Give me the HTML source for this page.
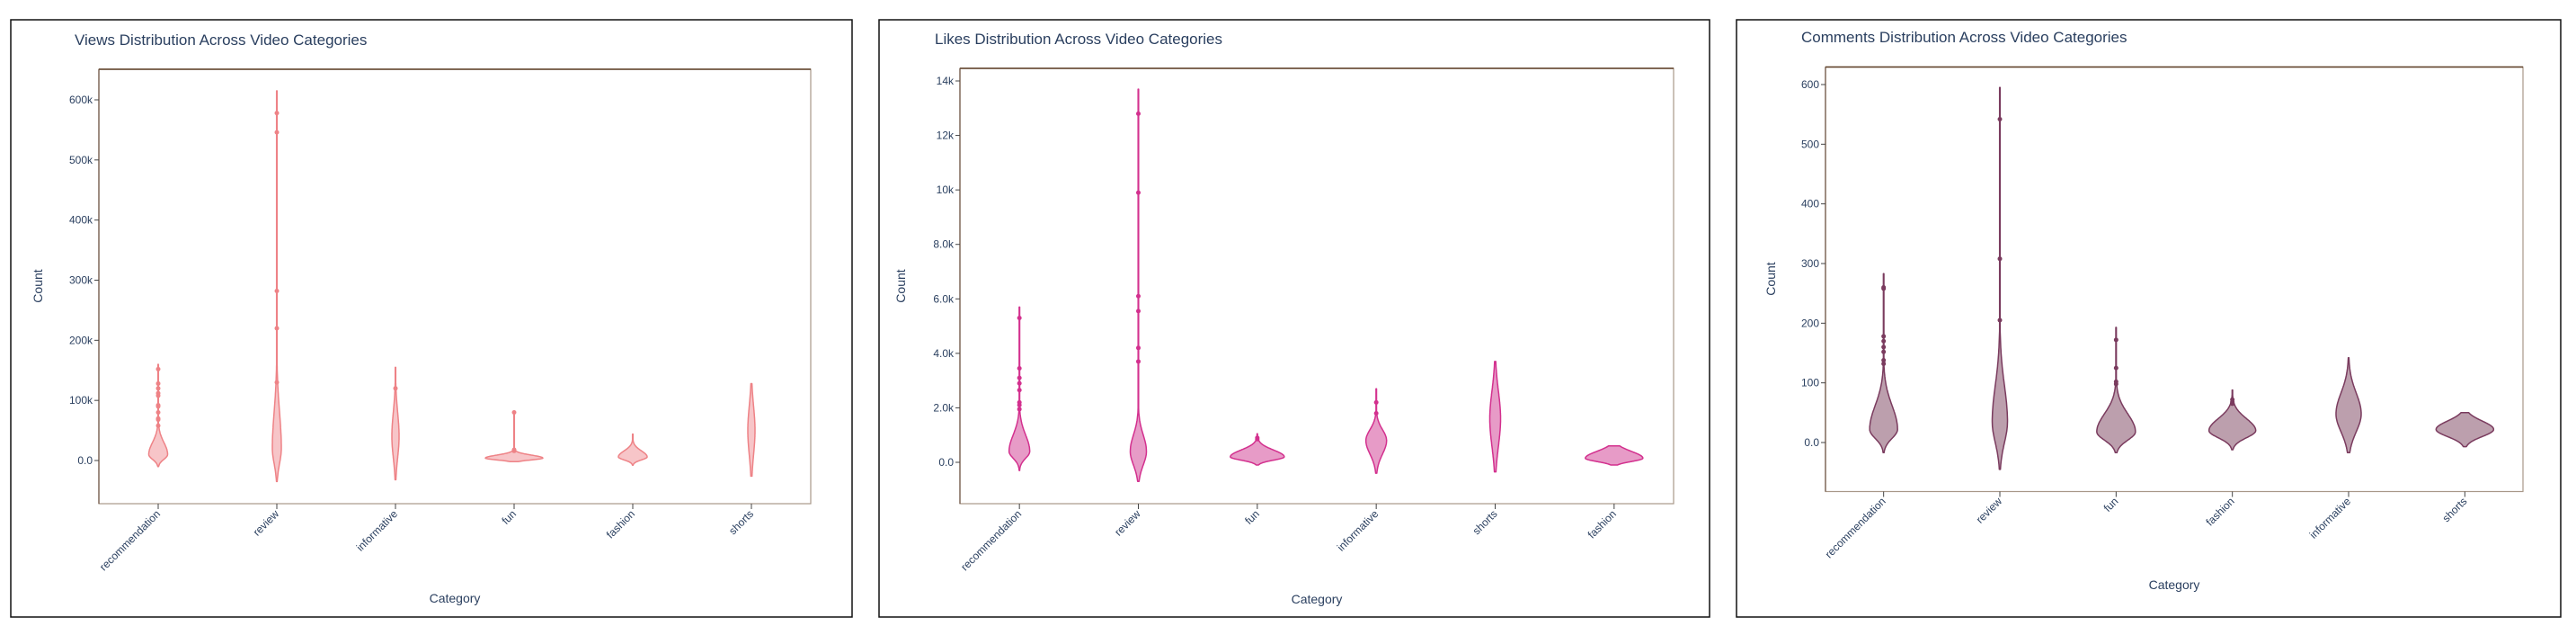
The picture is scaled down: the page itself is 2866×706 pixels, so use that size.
<!DOCTYPE html>
<html><head><meta charset="utf-8"><style>
html,body{margin:0;padding:0;background:#fff;}
svg{display:block;font-family:"Liberation Sans",sans-serif;}
</style></head><body>
<svg id="chart" width="2866" height="706"></svg>
<script>
// ---------- data ----------
const viewsCats = ["recommendation","review","informative","fun","fashion","shorts"];
const viewsLo = [-10,-35,-32,-2,-8,-26];
const viewsHi = [160,615,155,82,44,128];
const viewsMode = [10,20,40,4,6,50];
const viewsUp = [20,60,40,5,10,40];
const viewsDn = [8,25,35,3,5,40];
const viewsOut = [[152,128,120,112,108,92,90,80,70,68,58],[578,546,282,220,130],[120],[80,18,16],[],[]];
const viewsTicks = [0,100,200,300,400,500,600];
const viewsTickLabels = ["0.0","100k","200k","300k","400k","500k","600k"];

const likesCats = ["recommendation","review","fun","informative","shorts","fashion"];
const likesLo = [-0.3,-0.7,-0.1,-0.4,-0.35,-0.1];
const likesHi = [5.7,13.7,1.05,2.7,3.7,0.6];
const likesMode = [0.4,0.4,0.2,0.8,1.6,0.15];
const likesUp = [0.6,0.6,0.25,0.4,1.0,0.25];
const likesDn = [0.25,0.5,0.12,0.5,1.0,0.12];
const likesOut = [[5.3,3.45,3.1,2.9,2.65,2.2,2.1,1.95],[12.8,9.9,6.1,5.55,4.2,3.7],[0.9,0.85],[2.2,1.8],[],[]];
const likesTicks = [0,2,4,6,8,10,12,14];
const likesTickLabels = ["0.0","2.0k","4.0k","6.0k","8.0k","10k","12k","14k"];

const commCats = ["recommendation","review","fun","fashion","informative","shorts"];
const commLo = [-17,-45,-17,-12,-17,-7];
const commHi = [283,595,193,88,142,50];
const commMode = [22,35,18,20,48,22];
const commUp = [40,60,30,20,35,14];
const commDn = [15,35,14,12,30,12];
const commOut = [[260,258,178,170,160,152,138,132],[542,308,205],[172,125,102,98],[72,68,65],[],[]];
const commTicks = [0,100,200,300,400,500,600];
const commTickLabels = ["0.0","100","200","300","400","500","600"];

// ---------- layout / style (not data) ----------
const NS="http://www.w3.org/2000/svg";
const svg=document.getElementById('chart');
function mk(tag,attrs,parent){const e=document.createElementNS(NS,tag);for(const k in attrs)e.setAttribute(k,attrs[k]);(parent||svg).appendChild(e);return e;}
const TXT="#2a3f5f";

const panels=[
 {name:"views",title:"Views Distribution Across Video Categories",box:[12,22,936,664],plot:[110,77,902,560],y0:512,yUnit:(512-111)/600,
  cats:viewsCats,lo:viewsLo,hi:viewsHi,mode:viewsMode,up:viewsUp,dn:viewsDn,out:viewsOut,ticks:viewsTicks,tl:viewsTickLabels,
  half:[10.5,5,4,32,16,4],line:"#ee8286",fill:"rgba(240,140,145,0.5)",titleX:83,titleY:50,countX:47,countY:318,catY:670,labY:572},
 {name:"likes",title:"Likes Distribution Across Video Categories",box:[978,22,924,664],plot:[1068,76,1862,560],y0:514,yUnit:(514-90)/14,
  cats:likesCats,lo:likesLo,hi:likesHi,mode:likesMode,up:likesUp,dn:likesDn,out:likesOut,ticks:likesTicks,tl:likesTickLabels,
  half:[11.5,9,30,11.5,6,32],line:"#d3308e",fill:"#e79bc7",titleX:1040,titleY:49,countX:1007,countY:318,catY:671,labY:572},
 {name:"comments",title:"Comments Distribution Across Video Categories",box:[1932,22,917,664],plot:[2031,74.5,2807,546.5],y0:492,yUnit:(492-94)/600,
  cats:commCats,lo:commLo,hi:commHi,mode:commMode,up:commUp,dn:commDn,out:commOut,ticks:commTicks,tl:commTickLabels,
  half:[15.5,8.5,21.5,26,14,32],line:"#7a3b5e",fill:"#bc9fad",titleX:2004,titleY:47,countX:1975,countY:310,catY:655,labY:558}
];

panels.forEach(p=>{
  const g=mk('g',{});
  
  
  const [bx,by,bw,bh]=p.box;
  const border=mk('rect',{x:bx,y:by,width:bw,height:bh,fill:'#fff',stroke:'#111','stroke-width':1.5},g);
  
  
  const [px0,py0,px1,py1]=p.plot;
  const yS=v=>p.y0-v*p.yUnit;
  const step=(px1-px0)/p.cats.length;
  const xS=i=>px0+step*(i+0.5);
  const t=mk('text',{x:p.titleX,y:p.titleY,'font-size':17,fill:TXT},g);t.textContent=p.title;
  
  
  const fr=mk('rect',{x:px0,y:py0,width:px1-px0,height:py1-py0,fill:'none',stroke:'#a89888','stroke-width':1.2},g);
  
  
  const tp=mk('line',{x1:px0,y1:py0,x2:px1,y2:py0,stroke:'#5c3d25','stroke-width':1.4},g);
  
  
  const lf=mk('line',{x1:px0,y1:py0,x2:px0,y2:py1,stroke:'#6b5040','stroke-width':1.2},g);
  
  
  p.ticks.forEach((v,i)=>{
    const y=yS(v);
    const tk=mk('line',{x1:px0-5,y1:y,x2:px0,y2:y,stroke:'#444','stroke-width':1},g);
    
    
    const l=mk('text',{x:px0-7,y:y+4,'font-size':12,fill:TXT,'text-anchor':'end'},g);l.textContent=p.tl[i];
    
    
  });
  const ct=mk('text',{x:p.countX,y:p.countY,'font-size':14,fill:TXT,'text-anchor':'middle',transform:`rotate(-90 ${p.countX} ${p.countY})`},g);ct.textContent="Count";
  
  
  const cx=(px0+px1)/2;
  const xt=mk('text',{x:cx,y:p.catY,'font-size':14,fill:TXT,'text-anchor':'middle'},g);xt.textContent="Category";
  
  
  p.cats.forEach((c,i)=>{
    const x=xS(i);
    const tk=mk('line',{x1:x,y1:py1,x2:x,y2:py1+6,stroke:'#444','stroke-width':1},g);
    
    
    const lab=mk('text',{x:x+3,y:p.labY,'font-size':12,fill:TXT,'text-anchor':'end',transform:`rotate(-45 ${x+3} ${p.labY})`},g);lab.textContent=c;
    
    
    const lo=p.lo[i],hi=p.hi[i],m=p.mode[i],H=p.half[i];
    const N=160,right=[],left=[];
    for(let k=0;k<=N;k++){
      const v=lo+(hi-lo)*k/N;
      const s=v>=m?p.up[i]:p.dn[i];
      const z=(v-m)/s;
      let w=H*Math.exp(-z*z/2);
      if(w<0.3)w=0.3;
      right.push([x+w,yS(v)]);left.push([x-w,yS(v)]);
    }
    const pts=right.concat(left.reverse());
    const d='M'+pts.map(q=>q[0].toFixed(1)+','+q[1].toFixed(1)).join('L')+'Z';
    const path=mk('path',{d:d,fill:p.fill,stroke:p.line,'stroke-width':1.5,'stroke-linejoin':'round'},g);
    
    
    p.out[i].forEach(v=>{
      const pt=mk('circle',{cx:x,cy:yS(v),r:2.5,fill:p.line},g);
      
      
    });
  });
});
</script>
</body></html>
